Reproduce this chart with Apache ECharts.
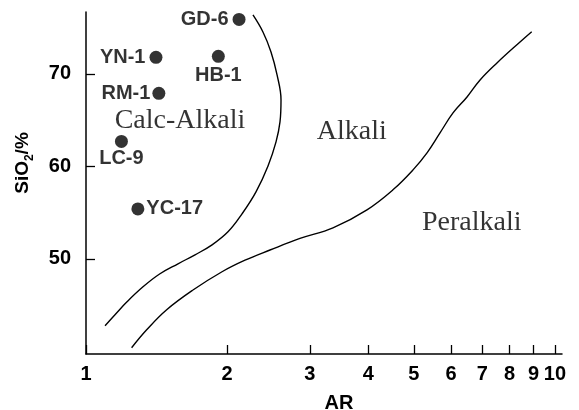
<!DOCTYPE html>
<html>
<head>
<meta charset="utf-8">
<script src="https://cdn.jsdelivr.net/npm/echarts@6/dist/echarts.min.js"></script>
<style>html,body{margin:0;padding:0;background:#fff}#c{width:579px;height:410px}</style>
</head>
<body>
<div id="c"></div>
<script>
// ---- data ----
const sampleNames = ['GD-6', 'YN-1', 'HB-1', 'RM-1', 'LC-9', 'YC-17'];
const sampleAR    = [2.12, 1.41, 1.915, 1.43, 1.19, 1.29];
const sampleSiO2  = [75.9, 71.8, 71.9, 67.9, 62.7, 55.4];

const boundary1AR   = [2.27, 2.384, 2.48, 2.555, 2.605, 2.592, 2.542, 2.444, 2.304, 2.151, 2.008, 1.857, 1.708, 1.571, 1.438, 1.323, 1.223, 1.153, 1.098];
const boundary1SiO2 = [76.38, 74.54, 72.38, 69.89, 67.19, 64.81, 62.65, 60.05, 57.24, 54.86, 52.92, 51.51, 50.43, 49.46, 48.38, 46.97, 45.35, 43.95, 42.76];

const boundary2AR   = [1.251, 1.347, 1.486, 1.694, 1.95, 2.183, 2.468, 2.859, 3.362, 3.973, 4.513, 4.981, 5.335, 5.686, 6.061, 6.493, 6.922, 7.521, 8.422, 8.92];
const boundary2SiO2 = [40.38, 42.32, 44.49, 46.65, 48.6, 49.85, 50.95, 52.2, 53.35, 55.3, 57.46, 59.62, 61.46, 63.62, 65.78, 67.51, 69.35, 71.19, 73.46, 74.57];

const regionNames = ['Calc-Alkali', 'Alkali', 'Peralkali'];
const regionAR    = [1.586, 3.686, 6.645];
const regionSiO2  = [64.92, 63.76, 53.86];

const xTickValues = [1, 2, 3, 4, 5, 6, 7, 8, 9, 10];
const yTickValues = [50, 60, 70];

// ---- styles (kept separate from data) ----
const labelPlacement = {'GD-6': 'left', 'YN-1': 'left', 'HB-1': 'bottom', 'RM-1': 'left', 'LC-9': 'bottom', 'YC-17': 'right'};
const labelDistance  = {'GD-6': 4, 'YN-1': 4, 'HB-1': 3, 'RM-1': 2, 'LC-9': 1, 'YC-17': 2};

const SANS = "'Liberation Sans', Arial, sans-serif";
const SERIF = "'Liberation Serif', 'Times New Roman', serif";
const TXT = {color: '#000', fontSize: 20, fontFamily: SANS, fontWeight: 'bold'};

const zip = (a, b) => a.map((v, i) => [v, b[i]]);

const chart = echarts.init(document.getElementById('c'), null, {renderer: 'canvas'});
chart.setOption({
  animation: false,
  backgroundColor: '#fff',
  grid: {left: 86, right: 17, top: 12, bottom: 56, containLabel: false, outerBoundsMode: 'none'},
  xAxis: {
    type: 'log', logBase: 10, min: 1, max: 10.35,
    name: 'AR', nameLocation: 'middle', nameGap: 39,
    nameTextStyle: Object.assign({}, TXT, {padding: [0, 0, 0, 30]}),
    axisLine: {lineStyle: {color: '#000', width: 1.5}},
    axisTick: {inside: true, length: 9, lineStyle: {color: '#000', width: 1.3}, customValues: xTickValues},
    axisLabel: Object.assign({}, TXT, {margin: 10, customValues: xTickValues}),
    splitLine: {show: false}, minorTick: {show: false}
  },
  yAxis: {
    type: 'value', min: 39.7, max: 76.7,
    name: '{a|SiO}{s|2}{a|/%}', nameLocation: 'middle', nameGap: 50, nameRotate: 90,
    nameTextStyle: {color: '#000', padding: [0, 0, 0, 40],
      rich: {a: {fontSize: 19, fontFamily: SANS, fontWeight: 'bold', color: '#000', lineHeight: 26},
             s: {fontSize: 12, fontFamily: SANS, fontWeight: 'bold', color: '#000', lineHeight: 12, verticalAlign: 'bottom'}}},
    axisLine: {show: true, lineStyle: {color: '#000', width: 1.5}},
    axisTick: {show: true, inside: true, length: 9, lineStyle: {color: '#000', width: 1.3}, customValues: yTickValues},
    axisLabel: Object.assign({}, TXT, {margin: 15, customValues: yTickValues}),
    splitLine: {show: false}
  },
  series: [
    {type: 'line', data: zip(boundary1AR, boundary1SiO2), smooth: 0.4, showSymbol: false, symbol: 'none',
     lineStyle: {color: '#000', width: 1.4}, silent: true},
    {type: 'line', data: zip(boundary2AR, boundary2SiO2), smooth: 0.4, showSymbol: false, symbol: 'none',
     lineStyle: {color: '#000', width: 1.4}, silent: true},
    {type: 'scatter', symbol: 'circle', symbolSize: 13, itemStyle: {color: '#000'},
     data: sampleNames.map((n, i) => ({
       name: n, value: [sampleAR[i], sampleSiO2[i]],
       label: Object.assign({show: true, formatter: n, position: labelPlacement[n], distance: labelDistance[n]}, TXT)
     }))},
    {type: 'scatter', symbolSize: 0, silent: true,
     data: regionNames.map((n, i) => ({
       name: n, value: [regionAR[i], regionSiO2[i]],
       label: {show: true, formatter: n, position: 'inside', color: '#000', fontSize: 28, fontFamily: SERIF}
     }))}
  ]
});
</script>
</body>
</html>
